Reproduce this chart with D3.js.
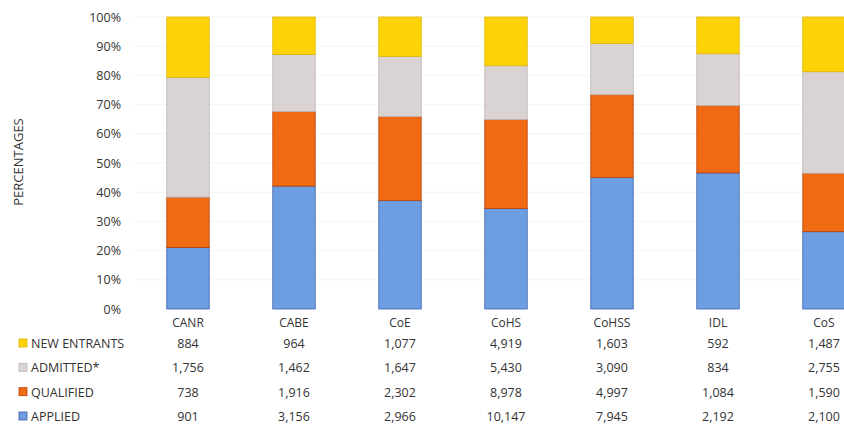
<!DOCTYPE html>
<html><head><meta charset="utf-8">
<script src="https://cdn.jsdelivr.net/npm/d3@7"></script>
<style>
html,body{margin:0;padding:0;background:#fff;}
svg{display:block;font-family:"Open Sans","Liberation Sans",sans-serif;}
</style></head>
<body>
<svg id="chart" width="844" height="444"></svg>
<script>
const categories = ["CANR","CABE","CoE","CoHS","CoHSS","IDL","CoS"];
const newEntrants = [884, 964, 1077, 4919, 1603, 592, 1487];
const admitted    = [1756, 1462, 1647, 5430, 3090, 834, 2755];
const qualified   = [738, 1916, 2302, 8978, 4997, 1084, 1590];
const applied     = [901, 3156, 2966, 10147, 7945, 2192, 2100];
const seriesNames = ["APPLIED","QUALIFIED","ADMITTED*","NEW ENTRANTS"];
const yTicks = [0,0.1,0.2,0.3,0.4,0.5,0.6,0.7,0.8,0.9,1];

const colors = {"APPLIED":"#6d9ee2","QUALIFIED":"#ef6a12","ADMITTED*":"#d9d3d3","NEW ENTRANTS":"#fdd307"};
const strokes = {"APPLIED":"#3a5fa8","QUALIFIED":"#b8410c","ADMITTED*":"#bdb6b6","NEW ENTRANTS":"#e0b400"};

const seriesData = {"APPLIED":applied,"QUALIFIED":qualified,"ADMITTED*":admitted,"NEW ENTRANTS":newEntrants};
const rows = categories.map((c,i)=>{
  const r = {cat:c};
  seriesNames.forEach(s=>r[s]=seriesData[s][i]);
  return r;
});
const stack = d3.stack().keys(seriesNames).offset(d3.stackOffsetExpand);
const stacked = stack(rows);

const svg = d3.select("#chart");
const x = d3.scaleBand().domain(categories).range([135, 877]).paddingInner(0.6).paddingOuter(0.3);
const y = d3.scaleLinear().domain([0,1]).range([309, 17]);
const txt = "#333333";

// faint gridlines
svg.append("g").selectAll("line").data(yTicks.slice(1)).join("line")
  .attr("x1",135).attr("x2",844).attr("y1",d=>y(d)).attr("y2",d=>y(d))
  .attr("stroke","#f5f5f5").attr("stroke-width",1);

// y axis
const yAxis = d3.axisLeft(y).tickValues(yTicks).tickFormat(d3.format(".0%")).tickSize(0).tickPadding(0);
const ya = svg.append("g").attr("transform","translate(121,0)").call(yAxis);
ya.select(".domain").remove();
ya.selectAll("text").attr("font-size",12.5).attr("fill",txt).attr("font-family","'Open Sans','Liberation Sans',sans-serif");

svg.append("text").attr("transform","translate(23,162) rotate(-90)")
  .attr("text-anchor","middle").attr("font-size",13).attr("fill",txt).text("PERCENTAGES");

// bars
svg.append("g").selectAll("g").data(stacked).join("g")
  .attr("fill",d=>colors[d.key]).attr("stroke",d=>strokes[d.key]).attr("stroke-width",0.8)
  .selectAll("rect").data(d=>d).join("rect")
  .attr("x",d=>x(d.data.cat)).attr("width",x.bandwidth())
  .attr("y",d=>y(d[1])).attr("height",d=>y(d[0])-y(d[1]));

// category labels
svg.append("g").selectAll("text").data(categories).join("text")
  .attr("x",d=>x(d)+x.bandwidth()/2).attr("y",327).attr("text-anchor","middle")
  .attr("font-size",12).attr("fill",txt).text(d=>d);

// data table
const tableOrder = ["NEW ENTRANTS","ADMITTED*","QUALIFIED","APPLIED"];
const rowY = d3.scalePoint().domain(tableOrder).range([348, 421]);
const fmt = d3.format(",");
const tg = svg.append("g");
tableOrder.forEach(s=>{
  tg.append("rect").attr("x",19).attr("y",rowY(s)-9).attr("width",8).attr("height",8)
    .attr("fill",colors[s]).attr("stroke",strokes[s]).attr("stroke-width",0.8);
  tg.append("text").attr("x",31).attr("y",rowY(s)).attr("font-size",12.5).attr("fill",txt).text(s);
  tg.selectAll(null).data(seriesData[s]).join("text")
    .attr("x",(d,i)=>x(categories[i])+x.bandwidth()/2).attr("y",rowY(s))
    .attr("text-anchor","middle").attr("font-size",12.5).attr("fill",txt).text(d=>fmt(d));
});
</script>
</body></html>
